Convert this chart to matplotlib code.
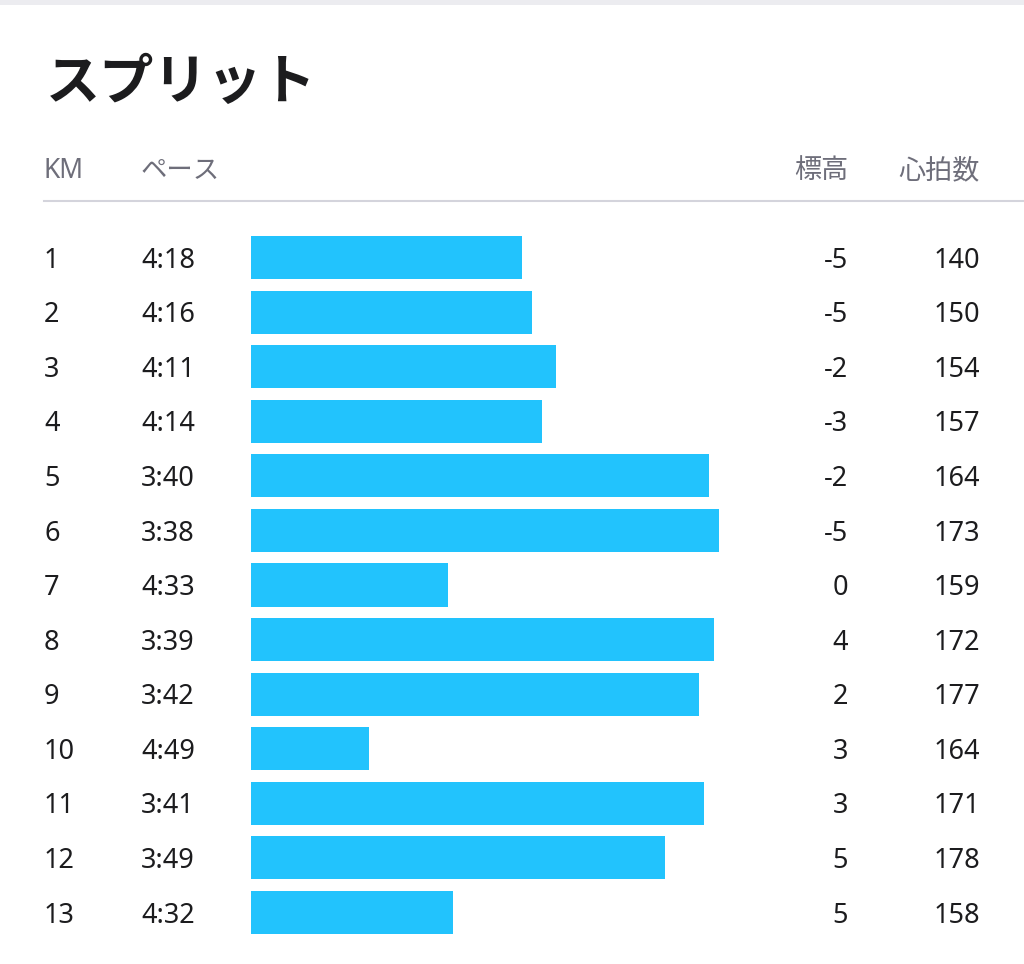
import matplotlib.pyplot as plt
from matplotlib.transforms import blended_transform_factory

plt.rcParams['font.family'] = ['Noto Sans CJK JP', 'DejaVu Sans']

km = ['1', '2', '3', '4', '5', '6', '7', '8', '9', '10', '11', '12', '13']
pace = ['4:18', '4:16', '4:11', '4:14', '3:40', '3:38', '4:33',
        '3:39', '3:42', '4:49', '3:41', '3:49', '4:32']
elevation = [-5, -5, -2, -3, -2, -5, 0, 4, 2, 3, 3, 5, 5]
heart_rate = [140, 150, 154, 157, 164, 173, 159, 172, 177, 164, 171, 178, 158]

W, H = 1024, 964
BAR_COLOR = '#22c3fd'
GRAY = '#6e6e7a'
TEXT = '#1c1c1e'
NUM_FONT = ['Noto Sans', 'Noto Sans CJK JP']


def to_seconds(p):
    m, s = p.split(':')
    return int(m) * 60 + int(s)


secs = [to_seconds(p) for p in pace]
# longer bar = faster pace
bar_len = [313 - s for s in secs]

fig = plt.figure(figsize=(W / 100, H / 100), dpi=100)
fig.patch.set_facecolor('white')

# light band at very top
fig.add_artist(plt.Rectangle((0, 1 - 5 / H), 1, 5 / H, transform=fig.transFigure,
                             color='#ececf0', lw=0))

fig.text(46 / W, 1 - 99 / H, 'スプリット', fontsize=39, fontweight='bold',
         color=TEXT, va='baseline', ha='left')

hy = 1 - 178 / H
fig.text(44 / W, hy, 'KM', fontsize=19, color=GRAY, va='baseline', ha='left',
         family=NUM_FONT)
fig.text(141 / W, hy, 'ペース', fontsize=19, color=GRAY, va='baseline', ha='left')
fig.text(848 / W, hy, '標高', fontsize=19.5, color=GRAY, va='baseline', ha='right')
fig.text(980 / W, hy, '心拍数', fontsize=19.5, color=GRAY, va='baseline', ha='right')

fig.add_artist(plt.Line2D([44 / W, 1], [1 - 201 / H] * 2, transform=fig.transFigure,
                          color='#d4d4dc', lw=1.5))

# bar axes: rows centred at 257.5 px + 54.58 px steps
top = 257.5 - 27.29
bottom = 912.5 + 27.29
ax = fig.add_axes([251 / W, 1 - bottom / H, 739 / W, (bottom - top) / H])
ax.set_xlim(0, 150)
ax.set_ylim(len(km) + 0.5, 0.5)
ax.axis('off')

rows = list(range(1, len(km) + 1))
ax.barh(rows, bar_len, height=0.79, color=BAR_COLOR, left=0)

tr = blended_transform_factory(fig.transFigure, ax.transData)
off = 0.185
for r, k, p, e, hr in zip(rows, km, pace, elevation, heart_rate):
    kw = dict(transform=tr, fontsize=19.5, color=TEXT, va='baseline',
              family=NUM_FONT)
    ax.text(44 / W, r + off, k, ha='left', **kw)
    ax.text(141 / W, r + off, p, ha='left', **kw)
    ax.text(848 / W, r + off, str(e), ha='right', **kw)
    ax.text(980 / W, r + off, str(hr), ha='right', **kw)

fig.savefig('out.png', dpi=100, facecolor='white')
